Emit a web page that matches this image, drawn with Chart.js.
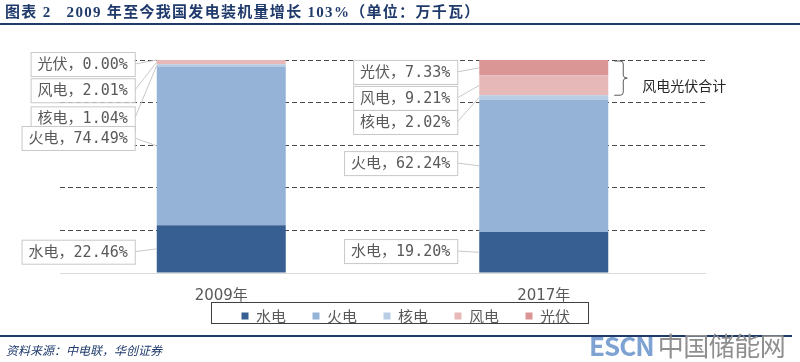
<!DOCTYPE html>
<html>
<head>
<meta charset="utf-8">
<script src="https://cdn.jsdelivr.net/npm/chart.js@4.4.1/dist/chart.umd.min.js"></script>
<style>
  body { margin: 0; background: #fff; }
  #wrap { position: relative; width: 800px; height: 362px; overflow: hidden; }
  #c { position: absolute; left: 0; top: 0; }
  .title { position: absolute; left: 5px; top: 3px; font: bold 15px "Liberation Serif", "Noto Sans CJK SC"; color: #1f3a6b; white-space: nowrap; line-height: 18px; letter-spacing: 1.3px; }
  .topline { position: absolute; left: 0; top: 23px; width: 800px; height: 2px; background: #1f3a6b; }
  .botline { position: absolute; left: 0; top: 335px; width: 792px; height: 2px; background: #1f3a6b; }
  .source { position: absolute; left: 6px; top: 341px; font: italic 12px "Noto Sans CJK SC"; color: #1f3a6b; white-space: nowrap; }
  .mark { position: absolute; left: 589px; top: 328px; font: 26px "Noto Sans CJK SC"; white-space: nowrap; line-height: 34px; }
  .mark b { color: #7ea3d3; font-weight: bold; letter-spacing: -1px; margin-right: 4px; }
  .mark span { color: #8f8f8f; letter-spacing: -0.5px; }
</style>
</head>
<body>
<div id="wrap">
  <canvas id="c" width="800" height="362"></canvas>
  <div class="title">图表 2&nbsp;&nbsp; 2009 年至今我国发电装机量增长 103%（单位：万千瓦）</div>
  <div class="topline"></div>
  <div class="botline"></div>
  <div class="source">资料来源：中电联，华创证券</div>
  <div class="mark"><b>ESCN</b><span>中国储能网</span></div>
</div>
<script>
// 年份与各电源占比（%）
const categories = ['2009年', '2017年'];
const seriesNames = ['水电', '火电', '核电', '风电', '光伏'];
const hydro   = [22.46, 19.20];
const thermal = [74.49, 62.24];
const nuclear = [1.04, 2.02];
const wind    = [2.01, 9.21];
const solar   = [0.00, 7.33];
const yTicks  = [0, 20, 40, 60, 80, 100];

const colors = ['#375f92', '#95b3d7', '#b9cde5', '#e6b9b8', '#d99694'];
const values = [hydro, thermal, nuclear, wind, solar];

// 标注框中心位置（数值坐标），按年份、按系列
const calloutPos = [
    [10, 63.4, 72.6, 85.8, 98.1],
    [10.3, 51.6, 70.9, 82.2, 94.4]
];

const labelFont = '15px "DejaVu Sans Mono", "Noto Sans CJK SC"';
const legendGap = '\u3000\u2002';

const calloutPlugin = {
    id: 'callouts',
    afterDatasetsDraw(chart) {
        const ctx = chart.ctx;
        const yScale = chart.scales.y;
        ctx.save();
        ctx.font = labelFont;
        const items = [];
        categories.forEach((cat, j) => {
            values.forEach((vals, i) => {
                const el = chart.getDatasetMeta(i).data[j];
                const barLeft = el.x - el.width / 2;
                const midY = (el.y + el.base) / 2;
                const text = seriesNames[i] + '，' + vals[j].toFixed(2) + '%';
                const w = ctx.measureText(text).width + 14;
                const right = barLeft - 22;
                const cy = yScale.getPixelForValue(calloutPos[j][i]);
                items.push({ text, left: right - w, right, cy, w, barLeft, midY });
            });
        });
        // 引导线
        ctx.strokeStyle = '#c8c8c8';
        ctx.lineWidth = 1;
        items.forEach(it => {
            ctx.beginPath();
            ctx.moveTo(it.right, it.cy);
            ctx.lineTo(it.barLeft, it.midY);
            ctx.stroke();
        });
        // 标注框
        items.slice().reverse().forEach(it => {
            ctx.fillStyle = '#fff';
            ctx.fillRect(it.left, it.cy - 12, it.w, 24);
            ctx.strokeStyle = '#c8c8c8';
            ctx.strokeRect(it.left + 0.5, it.cy - 12 + 0.5, it.w, 24);
            ctx.fillStyle = '#595959';
            ctx.textBaseline = 'middle';
            ctx.textAlign = 'left';
            ctx.fillText(it.text, it.left + 7, it.cy + 1);
        });

        // 风电光伏合计 括号
        const topEl = chart.getDatasetMeta(4).data[1];
        const nucEl = chart.getDatasetMeta(2).data[1];
        const bx = topEl.x + topEl.width / 2 + 6;
        const y1 = topEl.y + 1, y2 = nucEl.y;
        const ym = (y1 + y2) / 2;
        ctx.strokeStyle = '#595959';
        ctx.beginPath();
        ctx.moveTo(bx, y1);
        ctx.lineTo(bx + 6, y1);
        ctx.quadraticCurveTo(bx + 9, y1, bx + 9, y1 + 3);
        ctx.lineTo(bx + 9, ym - 3);
        ctx.quadraticCurveTo(bx + 9, ym, bx + 13, ym);
        ctx.quadraticCurveTo(bx + 9, ym, bx + 9, ym + 3);
        ctx.lineTo(bx + 9, y2 - 3);
        ctx.quadraticCurveTo(bx + 9, y2, bx + 6, y2);
        ctx.lineTo(bx, y2);
        ctx.stroke();
        ctx.font = '14px "Noto Sans CJK SC"';
        ctx.fillStyle = '#262626';
        ctx.textBaseline = 'middle';
        ctx.fillText('风电光伏合计', bx + 28, ym + 8);
        ctx.restore();
    },
    afterDraw(chart) {
        // 图例外框
        const ctx = chart.ctx;
        const boxes = chart.legend.legendHitBoxes;
        const minL = Math.min(...boxes.map(b => b.left));
        const maxR = Math.max(...boxes.map(b => b.left + b.width));
        ctx.save();
        ctx.strokeStyle = '#404040';
        ctx.lineWidth = 1;
        ctx.strokeRect(Math.round(minL - 30) + 0.5, 302.5, Math.round(maxR - minL + 26), 21);
        ctx.restore();
    }
};

new Chart(document.getElementById('c'), {
    type: 'bar',
    data: {
        labels: categories,
        datasets: seriesNames.map((name, i) => ({
            label: name,
            data: values[i],
            backgroundColor: colors[i],
            borderWidth: 0,
            categoryPercentage: 1,
            barPercentage: 0.4
        }))
    },
    options: {
        responsive: false,
        animation: false,
        layout: { padding: { top: 60, left: 34, right: 0, bottom: 28.5 } },
        plugins: {
            tooltip: { enabled: false },
            legend: {
                position: 'bottom',
                labels: {
                    boxWidth: 7,
                    boxHeight: 7,
                    padding: 4,
                    color: '#595959',
                    font: { size: 15, family: '"Noto Sans CJK SC"' },
                    generateLabels: chart => Chart.defaults.plugins.legend.labels.generateLabels(chart)
                        .map(l => Object.assign(l, { text: l.text + legendGap }))
                }
            }
        },
        scales: {
            x: {
                stacked: true,
                grid: { display: false, drawTicks: false },
                border: { display: true, color: '#d9d9d9' },
                ticks: { color: '#595959', padding: 14, font: { size: 15, family: '"DejaVu Sans", "Noto Sans CJK SC"' } },
                afterFit: s => { s.height = 31.5; }
            },
            y: {
                stacked: true,
                min: 0,
                max: 100,
                afterBuildTicks: s => { s.ticks = yTicks.map(v => ({ value: v })); },
                ticks: { display: false },
                grid: {
                    drawTicks: false,
                    color: c => (c.tick && c.tick.value === 0) ? 'rgba(0,0,0,0)' : '#4a4a4a'
                },
                border: { display: false, dash: [5, 3] },
                afterFit: s => { s.width = 26; }
            },
            y2: {
                position: 'right',
                grid: { display: false, drawTicks: false },
                ticks: { display: false },
                border: { display: false },
                afterFit: s => { s.width = 95; }
            }
        }
    },
    plugins: [calloutPlugin]
});
</script>
</body>
</html>
